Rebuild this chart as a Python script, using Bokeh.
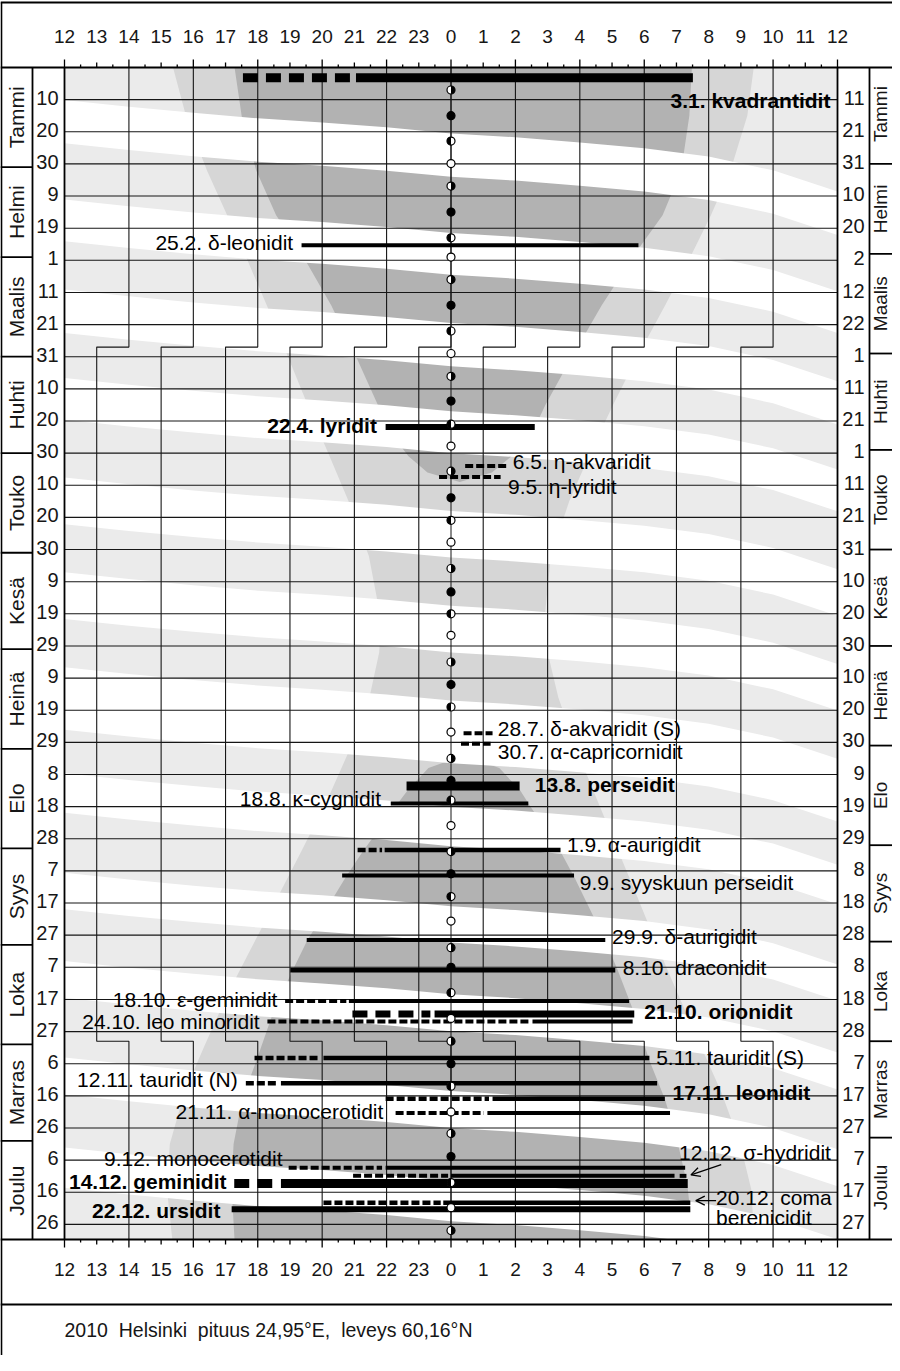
import math
from bokeh.plotting import figure
from bokeh.models import Range1d, Arrow, OpenHead
from bokeh.core.properties import value
from bokeh.embed import file_html
from bokeh.resources import INLINE

FONT = value("Liberation Sans")

# ---------------- calendar / axis data ----------------
HOUR_TICKS = list(range(-12, 13))
HOUR_LABELS = [str(h % 24) if h != 12 else "12" for h in HOUR_TICKS]
DAY_TICKS = list(range(10, 361, 10))
LEFT_DAY_LABELS = ["10", "20", "30", "9", "19", "1", "11", "21", "31", "10", "20", "30",
                   "10", "20", "30", "9", "19", "29", "9", "19", "29", "8", "18", "28",
                   "7", "17", "27", "7", "17", "27", "6", "16", "26", "6", "16", "26"]
RIGHT_DAY_LABELS = ["11", "21", "31", "10", "20", "2", "12", "22", "1", "11", "21", "1",
                    "11", "21", "31", "10", "20", "30", "10", "20", "30", "9", "19", "29",
                    "8", "18", "28", "8", "18", "28", "7", "17", "27", "7", "17", "27"]
MONTHS = ["Tammi", "Helmi", "Maalis", "Huhti", "Touko", "Kesä", "Heinä", "Elo",
          "Syys", "Loka", "Marras", "Joulu"]
MONTH_END = [31, 59, 90, 120, 151, 181, 212, 243, 273, 304, 334, 365]
DST_START, DST_END = 87, 303
FOOTER = "2010\u00a0\u00a0Helsinki\u00a0\u00a0pituus 24,95°E,\u00a0\u00a0leveys 60,16°N"

# ---------------- moon phases (day of year) ----------------
LQ_DAYS = [7, 36.9, 66, 96.1, 125.6, 155.9, 185, 215, 244, 273.9, 303, 331.7, 361.9]
NM_DAYS = [15, 45, 74, 103.8, 133.9, 163.2, 192, 221.9, 250.9, 280, 310, 338.9]
FQ_DAYS = [22.9, 53, 82, 111, 140.9, 170, 199, 228, 258, 287.9, 317, 347]
FM_DAYS = [29.9, 59, 89, 117.8, 147.7, 176.7, 206.8, 235.9, 265.6, 295.9, 325, 354.8]

# ---------------- moon above horizon (white bands) ----------------
# day on which moonset / moonrise passes midnight, for each band
MOON_SET_MID = [20.5, 51.5, 79.5, 107, 138, 167.5, 197, 230, 261, 288.4, 318.5, 346.5]
MOON_RISE_MID = [34, 64.5, 93, 120, 152.5, 182, 216.5, 242.3, 272.3, 299.9, 330, 359]
# shape of a band edge: hour of night -> days relative to its midnight crossing
EDGE_HOUR = [-12, -10, -8, -6, -4, -2, 0, 2, 4, 6, 8, 10, 12]
EDGE_DAY = [-10.4, -8.3, -6.4, -4.7, -3.4, -1.9, 0, 1.2, 2.8, 4.6, 7.2, 11.5, 18.1]

# ---------------- sun (local standard time, hours) ----------------
SUN_DOY = [0, 15, 32, 46, 60, 74, 91, 105, 121, 135, 152, 172, 182, 196, 213, 227,
           244, 258, 274, 288, 305, 319, 335, 349, 365]
SUNSET = [15.37, 15.77, 16.42, 17.05, 17.68, 18.28, 18.98, 19.55, 20.23, 20.82, 21.45,
          21.83, 21.77, 21.47, 20.82, 20.2, 19.35, 18.63, 17.8, 17.08, 16.32, 15.72,
          15.27, 15.18, 15.35]
SUNRISE = [9.40, 9.20, 8.68, 8.07, 7.38, 6.65, 5.73, 5.03, 4.28, 3.67, 3.1, 2.9, 3.0,
           3.33, 3.93, 4.5, 5.2, 5.78, 6.43, 7.03, 7.78, 8.4, 8.98, 9.32, 9.42]
NIGHT1_DOY = [0, 15, 32, 46, 56, 74, 91, 105, 112, 121, 126, 129]
DUSK1 = [17.28, 17.5, 17.95, 18.57, 19.25, 20.28, 21.1, 21.73, 22.0, 22.68, 23.27, 24.27]
DAWN1 = [7.48, 7.4, 7.15, 6.57, 5.85, 4.68, 3.7, 2.93, 2.6, 1.88, 1.27, 0.27]
NIGHT2_DOY = [214, 218, 225, 230, 244, 252, 272, 281, 294, 309, 321, 335, 348, 356, 365]
DUSK2 = [24.4, 23.3, 22.65, 22.27, 21.26, 20.73, 19.52, 19.08, 18.48, 17.96, 17.52,
         17.25, 17.18, 17.23, 17.28]
DAWN2 = [0.4, 1.5, 2.15, 2.47, 3.4, 3.83, 4.8, 5.18, 5.68, 6.16, 6.64, 7.05, 7.34,
         7.43, 7.48]

# ---------------- meteor showers ----------------
NAN = float("nan")
NAMES = ["3.1. kvadrantidit", "25.2. δ-leonidit", "22.4. lyridit", "6.5. η-akvaridit",
         "9.5. η-lyridit", "28.7. δ-akvaridit (S)", "30.7. α-capricornidit",
         "13.8. perseidit", "18.8. κ-cygnidit", "1.9. α-aurigidit",
         "9.9. syyskuun perseidit", "29.9. δ-aurigidit", "8.10. draconidit",
         "18.10. ε-geminidit", "21.10. orionidit", "24.10. leo minoridit",
         "5.11. tauridit (S)", "12.11. tauridit (N)", "17.11. leonidit",
         "21.11. α-monocerotidit", "9.12. monocerotidit", "12.12. σ-hydridit",
         "14.12. geminidit", "20.12. coma|berenicidit", "22.12. ursidit"]
BOLD = [1, 0, 1, 0, 0, 0, 0, 1, 0, 0, 0, 0, 0, 0, 1, 0, 0, 0, 1, 0, 0, 0, 1, 0, 1]
BAR_Y = [3.2, 55.3, 111.9, 124.0, 127.4, 207.2, 210.4, 223.6, 229.0, 243.5, 251.4, 271.5,
         280.9, 290.5, 294.5, 296.9, 308.2, 316.1, 320.9, 325.3, 342.4, 344.9, 347.3,
         353.3, 355.3]
BAR_W = [9, 4, 6, 4, 4, 4, 4, 9, 4, 4.5, 4, 4, 4.5, 4, 7, 4, 4.5, 4.5, 4.5, 4, 4, 4, 9,
         4.5, 6]
DASH_X0 = [-6.46, NAN, NAN, 0.44, -0.37, 0.39, 0.31, NAN, NAN, -2.9, NAN, NAN, NAN,
           -5.15, -3.06, -5.7, -6.1, -6.37, -2.03, -1.72, -5.04, -3.04, -6.73, -3.96, NAN]
DASH_X1 = [-3.1, NAN, NAN, 1.73, 1.54, 1.29, 1.23, NAN, NAN, -2.14, NAN, NAN, NAN,
           -3.25, -0.64, 2.45, -4.09, -5.39, 1.18, 1.02, -2.14, -0.09, -5.54, -0.32, NAN]
SOLID_X0 = [-2.95, -4.64, -2.03, NAN, NAN, NAN, NAN, -1.38, -1.87, -2.06, -3.38, -4.48,
            -4.99, -3.17, -0.51, 2.53, -3.96, -5.28, 1.29, 1.13, -2.03, 0.0, -5.28, -0.24,
            -6.81]
SOLID_X1 = [7.51, 5.82, 2.6, NAN, NAN, NAN, NAN, 2.13, 2.4, 3.4, 3.82, 4.79, 5.1, 5.53,
            5.69, 5.64, 6.16, 6.4, 6.64, 6.8, 7.27, 6.94, 7.35, 7.43, 7.43]
TAIL_X0 = [NAN] * 21 + [7.1] + [NAN] * 3
TAIL_X1 = [NAN] * 21 + [7.31] + [NAN] * 3
LABEL_X = [11.78, -4.9, -2.3, 1.92, 1.77, 1.45, 1.45, 2.6, -2.17, 3.6, 4.0, 5.0, 5.33,
           -5.39, 6.0, -5.94, 6.37, -6.62, 6.88, -2.1, -5.23, 7.08, -6.97, 8.23, -7.16]
LABEL_Y = [10.2, 54.6, 111.3, 122.5, 130.3, 205.8, 213.0, 223.1, 227.4, 241.8, 253.7,
           270.3, 280.0, 290.0, 293.6, 297.0, 308.2, 315.0, 319.0, 325.0, 339.5, 337.7,
           346.5, 351.7, 355.8]
LABEL_SIDE = ["right", "right", "right", "left", "left", "left", "left", "left", "right",
              "left", "left", "left", "left", "right", "left", "right", "left", "right",
              "left", "right", "right", "left", "right", "left", "right"]
ARROW_X0 = [8.39, 8.23]
ARROW_Y0 = [341.4, 352.6]
ARROW_X1 = [7.45, 7.6]
ARROW_Y1 = [344.6, 352.6]

# ---------------- geometry ----------------
W, H = 892, 1355
PX_L, PX_R, PX_T, PX_B = 64, 837, 67, 1239
DAYS = 364.7
KX = (PX_R - PX_L) / 24.0
KY = (PX_B - PX_T) / DAYS
X0 = -12 - PX_L / KX
X1 = X0 + W / KX
Y0 = -PX_T / KY
Y1 = Y0 + H / KY


def hx(px):
    return X0 + px / KX


def dy(py):
    return Y0 + py / KY


def ev(h):
    return h - 24.0


C_DAY, C_TWI, C_NIGHT = "#ebebeb", "#d6d6d6", "#b2b2b2"
INK = "#161616"

p = figure(width=W, height=H, x_range=Range1d(X0, X1), y_range=Range1d(Y1, Y0),
           output_backend="svg", toolbar_location=None, x_axis_location=None,
           y_axis_location=None, min_border=0, outline_line_color=None)
p.grid.visible = False
p.background_fill_color = "white"
p.border_fill_color = "white"

# ---- sun background ----
p.quad(left=-12, right=12, top=0, bottom=DAYS, fill_color=C_DAY, line_color=None)
p.patch([ev(s) for s in SUNSET] + SUNRISE[::-1], SUN_DOY + SUN_DOY[::-1],
        fill_color=C_TWI, line_color=None)
for dd, du, da in ((NIGHT1_DOY, DUSK1, DAWN1), (NIGHT2_DOY, DUSK2, DAWN2)):
    p.patch([ev(v) for v in du] + da[::-1], dd + dd[::-1], fill_color=C_NIGHT,
            line_color=None)

# ---- moon above horizon: white bands ----
bx, byy = [], []
for s, r in zip(MOON_SET_MID, MOON_RISE_MID):
    bx.append(EDGE_HOUR + EDGE_HOUR[::-1])
    byy.append([s + d for d in EDGE_DAY] + [r + d for d in EDGE_DAY[::-1]])
p.patches(bx, byy, fill_color="white", line_color=None)
# keep shading inside the plot area
p.quad(left=[-12, -12], right=[12, 12], top=[Y0, DAYS], bottom=[0, Y1],
       fill_color="white", line_color=None)

# ---- grid ----
p.segment(x0=[-12] * len(DAY_TICKS), x1=[12] * len(DAY_TICKS), y0=DAY_TICKS, y1=DAY_TICKS,
          line_color=INK, line_width=1.1)
vx, vy = [], []
for h in range(-10, 11, 2):
    vx.append([h, h, h - 1, h - 1, h, h])
    vy.append([0, DST_START, DST_START, DST_END, DST_END, DAYS])
p.multi_line(vx, vy, line_color=INK, line_width=1.1)
p.segment(x0=[0], x1=[0], y0=[0], y1=[DAYS], line_color=INK, line_width=1)

# ---- frame and boxes ----
lw = 1.8
full_x0, full_x1 = hx(0), hx(W)
p.segment(x0=[full_x0] * 4, x1=[full_x1] * 4, y0=[dy(2), 0, DAYS, dy(1304)],
          y1=[dy(2), 0, DAYS, dy(1304)], line_color="black", line_width=lw)
p.segment(x0=[hx(0.9), -12, 12, hx(32), hx(869)], x1=[hx(0.9), -12, 12, hx(32), hx(869)],
          y0=[dy(2), 0, 0, 0, 0], y1=[dy(H), DAYS, DAYS, DAYS, DAYS],
          line_color="black", line_width=lw)
p.segment(x0=[hx(0)] * 11, x1=[hx(32)] * 11, y0=MONTH_END[:-1], y1=MONTH_END[:-1],
          line_color="black", line_width=lw)
p.segment(x0=[hx(869)] * 11, x1=[full_x1] * 11, y0=[m - 1 for m in MONTH_END[:-1]],
          y1=[m - 1 for m in MONTH_END[:-1]], line_color="black", line_width=lw)

# ---- hour ticks ----
tx, ty0, ty1, by0, by1 = [], [], [], [], []
for i in range(49):
    h = -12 + i * 0.5
    ln = 8 if i % 4 == 0 else (5 if i % 2 == 0 else 3)
    tx.append(h)
    ty0.append(0)
    ty1.append(-ln / KY)
    by0.append(DAYS)
    by1.append(DAYS + ln / KY)
p.segment(x0=tx, x1=tx, y0=ty0, y1=ty1, line_color="black", line_width=1.3)
p.segment(x0=tx, x1=tx, y0=by0, y1=by1, line_color="black", line_width=1.3)
for yy in (dy(36), dy(1269)):
    p.text(x=HOUR_TICKS, y=[yy] * len(HOUR_TICKS), text=HOUR_LABELS, text_font=FONT,
           text_font_size="19px", text_align="center", text_baseline="middle",
           text_color=INK)

# ---- day labels ----
p.text(x=[hx(58)] * len(DAY_TICKS), y=[d - 0.6 for d in DAY_TICKS], text=LEFT_DAY_LABELS,
       text_font=FONT, text_font_size="20px", text_align="right", text_baseline="middle",
       text_color=INK)
p.text(x=[hx(864)] * len(DAY_TICKS), y=[d - 0.6 for d in DAY_TICKS], text=RIGHT_DAY_LABELS,
       text_font=FONT, text_font_size="20px", text_align="right", text_baseline="middle",
       text_color=INK)

# ---- month names ----
starts = [0] + MONTH_END[:-1]
mid_l = [(a + b) / 2 for a, b in zip(starts, MONTH_END)]
mid_r = [(a + b) / 2 - 1 for a, b in zip(starts, MONTH_END)]
p.text(x=[hx(16)] * 12, y=mid_l, text=MONTHS, angle=math.pi / 2, text_font=FONT,
       text_font_size="21px", text_align="center", text_baseline="middle", text_color=INK)
p.text(x=[hx(880)] * 12, y=mid_r, text=MONTHS, angle=math.pi / 2, text_font=FONT,
       text_font_size="19px", text_align="center", text_baseline="middle", text_color=INK)

# ---- shower bars ----
for i in range(len(NAMES)):
    w = BAR_W[i]
    if not math.isnan(DASH_X0[i]):
        dash = "15 8" if w > 6 else "8 3"
        p.segment(x0=[DASH_X0[i]], x1=[DASH_X1[i]], y0=[BAR_Y[i]], y1=[BAR_Y[i]],
                  line_color="black", line_width=w, line_dash=dash, line_cap="butt")
    for a, b in ((SOLID_X0[i], SOLID_X1[i]), (TAIL_X0[i], TAIL_X1[i])):
        if not math.isnan(a):
            p.segment(x0=[a], x1=[b], y0=[BAR_Y[i]], y1=[BAR_Y[i]],
                      line_color="black", line_width=w, line_cap="butt")

# ---- moon phase symbols ----
SYM = 8
p.scatter(x=[0] * len(FM_DAYS), y=FM_DAYS, size=SYM, fill_color="white",
          line_color="black", line_width=1.2)
p.scatter(x=[0] * len(NM_DAYS), y=NM_DAYS, size=SYM, fill_color="black",
          line_color="black", line_width=1.2)
p.scatter(x=[0] * (len(LQ_DAYS) + len(FQ_DAYS)), y=LQ_DAYS + FQ_DAYS, size=SYM,
          fill_color="white", line_color=None)
p.wedge(x=[0] * len(LQ_DAYS), y=LQ_DAYS, radius=SYM / 2, radius_units="screen",
        start_angle=-math.pi / 2, end_angle=math.pi / 2, fill_color="black", line_color=None)
p.wedge(x=[0] * len(FQ_DAYS), y=FQ_DAYS, radius=SYM / 2, radius_units="screen",
        start_angle=math.pi / 2, end_angle=3 * math.pi / 2, fill_color="black",
        line_color=None)
p.scatter(x=[0] * (len(LQ_DAYS) + len(FQ_DAYS)), y=LQ_DAYS + FQ_DAYS, size=SYM,
          fill_color=None, line_color="black", line_width=1.2)

# ---- shower labels ----
for i, name in enumerate(NAMES):
    style = "bold" if BOLD[i] else "normal"
    for k, part in enumerate(name.split("|")):
        p.text(x=[LABEL_X[i]], y=[LABEL_Y[i] + k * 6.3], text=[part], text_font=FONT,
               text_font_size="21px", text_font_style=style, text_align=LABEL_SIDE[i],
               text_baseline="middle", text_color="black")
for i in range(len(ARROW_X0)):
    p.add_layout(Arrow(end=OpenHead(size=9, line_width=1.3, line_color="black"),
                       x_start=ARROW_X0[i], y_start=ARROW_Y0[i], x_end=ARROW_X1[i],
                       y_end=ARROW_Y1[i], line_width=1.3, line_color="black"))

# ---- footer ----
p.text(x=[hx(64)], y=[dy(1329)], text=[FOOTER], text_font=FONT, text_font_size="19.5px",
       text_align="left", text_baseline="middle", text_color=INK)

open("out.html", "w").write(file_html(p, INLINE))
